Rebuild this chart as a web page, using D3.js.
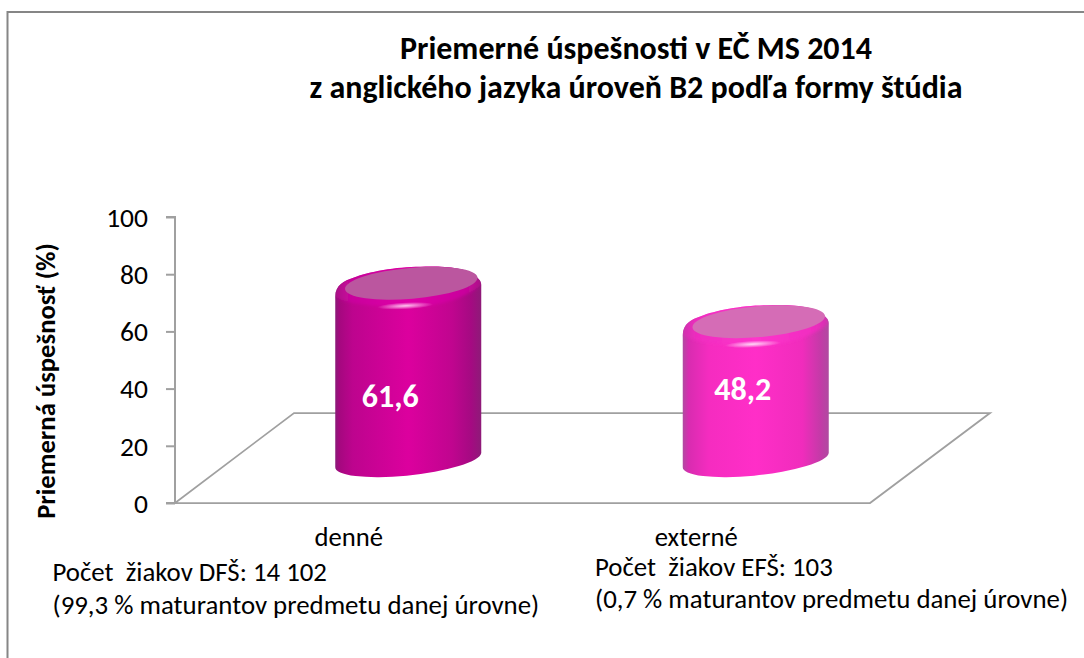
<!DOCTYPE html>
<html lang="sk">
<head>
<meta charset="UTF-8">
<title>Priemerné úspešnosti</title>
<script src="https://cdn.jsdelivr.net/npm/d3@7"></script>
<style>
  html, body { margin: 0; padding: 0; background: #fff; }
  svg { display: block; }
  text { font-family: Carlito, Lato, "Open Sans", sans-serif; fill: #000; white-space: pre; }
</style>
</head>
<body>
<div id="chart"></div>
<script>
const categories = ["denné", "externé"];
const values = [61.6, 48.2];
const valueLabels = ["61,6", "48,2"];
const yTicks = [0, 20, 40, 60, 80, 100];
const titleLines = ["Priemerné úspešnosti v EČ MS 2014", "z anglického jazyka úroveň B2 podľa formy štúdia"];
const yTitle = "Priemerná úspešnosť (%)";
const noteLines = [
  ["Počet  žiakov DFŠ: 14 102", "(99,3 % maturantov predmetu danej úrovne)"],
  ["Počet  žiakov EFŠ: 103", "(0,7 % maturantov predmetu danej úrovne)"]
];
const barColors = [
  { stops: [[0, "#8a1a78"], [0.03, "#a5087f"], [0.12, "#bd048e"], [0.5, "#dc009e"], [0.8, "#c0058f"], [0.93, "#a50a82"], [1, "#8e1a78"]],
    rim: [[0, "#ac0a88"], [0.1, "#c8069c"], [0.5, "#e004a8"], [0.9, "#c8069c"], [1, "#ac0a88"]],
    top: "#bb569f", glow: "#ffc4ee" },
  { stops: [[0, "#b04aa0"], [0.04, "#d82cb0"], [0.18, "#f52cc0"], [0.5, "#ff2ec8"], [0.82, "#f02cbc"], [0.94, "#c53aa8"], [1, "#b04aa0"]],
    rim: [[0, "#d030ae"], [0.1, "#f02cc0"], [0.5, "#ff34cc"], [0.9, "#f02cc0"], [1, "#d030ae"]],
    top: "#d56cb6", glow: "#ffd8f6" }
];

const width = 1084, height = 658;
const svg = d3.select("#chart").append("svg").attr("width", width).attr("height", height);
const defs = svg.append("defs");

// frame, only top and left are in the picture
svg.append("path")
  .attr("d", "M7.5,658V12H1084")
  .attr("fill", "none").attr("stroke", "#868686").attr("stroke-width", 2);

svg.append("g").selectAll("text").data(titleLines).enter().append("text")
  .attr("x", 636).attr("y", (d, i) => 58.5 + i * 39.5)
  .attr("text-anchor", "middle")
  .style("font-size", "32px").style("font-weight", "bold")
  .text(d => d);

const y = d3.scaleLinear().domain([0, 100]).range([503, 217]);
const x = d3.scaleBand().domain(categories).range([175, 870]);

// floor of the 3D plot
svg.append("path")
  .attr("d", "M175,503L294,413H990L870,503H175")
  .attr("fill", "none").attr("stroke", "#a0a0a0").attr("stroke-width", 1.75);

const axis = d3.axisLeft(y).tickValues(yTicks).tickSize(9).tickPadding(18).tickFormat(d3.format("d"));
const gy = svg.append("g").attr("transform", "translate(175,0)").call(axis);
gy.select(".domain").attr("stroke", "#a0a0a0").attr("stroke-width", 2).attr("d", "M-9,217H0V503H-9");
gy.selectAll(".tick line").attr("stroke", "#a0a0a0").attr("stroke-width", 2);
gy.selectAll(".tick text").style("font-size", "27.5px").attr("dy", "0.34em");

svg.append("text")
  .attr("transform", "translate(55,381) rotate(-90)")
  .attr("text-anchor", "middle")
  .style("font-size", "26.67px").style("font-weight", "bold")
  .text(yTitle);

const soft = defs.append("filter").attr("id", "soft")
  .attr("x", "-10%").attr("y", "-20%").attr("width", "120%").attr("height", "140%");
soft.append("feGaussianBlur").attr("stdDeviation", 1.6);

// cylinders: depth shift moves them back onto the floor
const depthX = 59.5, depthY = 37;
const baseCenter = 460;
const topEdge = "C-73,-5 -64,-9 -55,-12C-40,-18 -12,-23 12,-23C35,-24 58,-22 65,-15C70,-12 73,-9 73,-5";
categories.forEach((c, i) => {
  const col = barColors[i];
  const grad = defs.append("linearGradient").attr("id", "side" + i);
  grad.selectAll("stop").data(col.stops).enter().append("stop")
    .attr("offset", d => d[0]).attr("stop-color", d => d[1]);
  const rimGrad = defs.append("linearGradient").attr("id", "rim" + i);
  rimGrad.selectAll("stop").data(col.rim).enter().append("stop")
    .attr("offset", d => d[0]).attr("stop-color", d => d[1]);
  const glow = defs.append("radialGradient").attr("id", "glow" + i);
  glow.append("stop").attr("offset", 0).attr("stop-color", col.glow);
  glow.append("stop").attr("offset", 1).attr("stop-color", col.glow).attr("stop-opacity", 0);

  const cx = x(c) + x.bandwidth() / 2 + depthX;
  const top = y(values[i]) - depthY;
  const height = baseCenter - top;
  const bodyPath = `M-73,7${topEdge}V${height - 7}A73.3,15.4 -6 0 1 -73,${height + 7}Z`;
  defs.append("clipPath").attr("id", "body" + i).append("path").attr("d", bodyPath);

  const g = svg.append("g").attr("transform", `translate(${cx},${top})`);
  g.append("path").attr("d", bodyPath).attr("fill", `url(#side${i})`);

  // rounded bevel and highlight, kept inside the silhouette
  const inner = g.append("g").attr("clip-path", `url(#body${i})`);
  inner.append("path")
    .attr("d", `M-73,7${topEdge}C66,2 45,12 25,15C10,18 -10,18 -21,17C-45,15 -65,13 -73,7Z`)
    .attr("fill", `url(#rim${i})`).attr("filter", "url(#soft)");
  inner.append("ellipse")
    .attr("cx", -3).attr("cy", 16).attr("rx", 28).attr("ry", 3.5)
    .attr("transform", "rotate(-3 -3 16)")
    .attr("fill", `url(#glow${i})`);

  // top face
  g.append("ellipse")
    .attr("cx", 3).attr("cy", -6.5).attr("rx", 66.5).attr("ry", 15.5)
    .attr("transform", "rotate(-5 3 -6.5)")
    .attr("fill", col.top);

  svg.append("text")
    .attr("x", cx - [18, 13][i]).attr("y", [407, 400][i])
    .attr("text-anchor", "middle")
    .style("font-size", "32px").style("font-weight", "bold").style("fill", "#fff")
    .text(valueLabels[i]);
});

svg.append("g").selectAll("text").data(categories).enter().append("text")
  .attr("x", c => x(c) + x.bandwidth() / 2).attr("y", 546)
  .attr("text-anchor", "middle").style("font-size", "26.67px")
  .text(d => d);

noteLines.forEach((lines, i) => {
  svg.append("g").selectAll("text").data(lines).enter().append("text")
    .attr("x", [52.5, 595][i]).attr("y", (d, k) => [581, 576][i] + k * [33, 32][i])
    .style("font-size", "26.85px")
    .text(d => d);
});
</script>
</body>
</html>
